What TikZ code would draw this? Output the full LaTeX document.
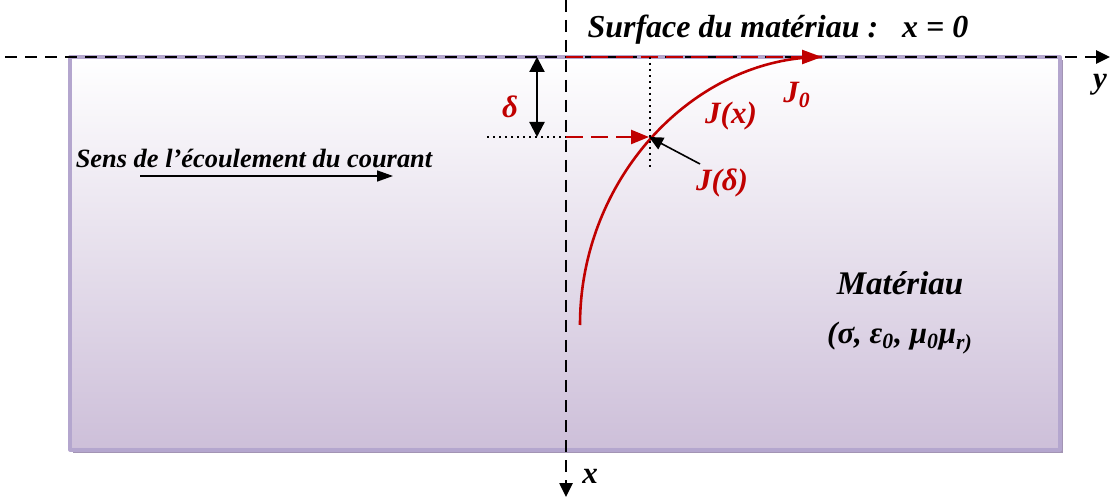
\documentclass[tikz,border=0pt]{standalone}
\usepackage{fontspec}
\setmainfont{Liberation Serif}
\usetikzlibrary{arrows.meta}
\definecolor{jred}{HTML}{C00000}
\definecolor{lilac}{HTML}{CDBFD9}
\definecolor{lilacedge}{HTML}{B4A6CE}
\definecolor{lilacshadow}{HTML}{A394B4}

\begin{document}
\begin{tikzpicture}[x=0.5pt, y=-0.5pt, line join=round,
    lbl/.style={font=\bfseries\itshape\fontsize{15.5}{17}\selectfont, inner sep=1pt},
    redlbl/.style={lbl, text=jred},
    tip/.style={-{Triangle[length=7pt,width=6.5pt]}},
    axisline/.style={line width=1.3pt, dash pattern=on 6pt off 4pt, tip}]
  \useasboundingbox (0,0) rectangle (1111,501);
  \coordinate (O) at (566,57);
  \coordinate (ystart) at (5,57);
  \coordinate (yend) at (1110,57);
  \coordinate (xstart) at (566,0);
  \coordinate (xend) at (566,497);
  \coordinate (Jtop) at (822,57);
  \coordinate (Jbot) at (580,325);
  \coordinate (Dx) at (566,137);   % depth delta on x axis
  \coordinate (Dp) at (649,137);   % J(delta) on the curve
  % material block
  \fill[lilacshadow] (73,60) rectangle (1063,453);
  \shade[top color=white, bottom color=lilac, draw=lilacedge, line width=1.6pt]
    (70,57) rectangle (1060,450);
  % axes
  \draw[axisline] (ystart) -- (yend);
  \draw[axisline] (xstart) -- (xend);
  \node[lbl] (ylab) at (1100,85) {y};
  \node[lbl] (xlab) at (590,476) {x};
  \node[lbl, font=\bfseries\itshape\fontsize{16}{18}\selectfont] (surf) at (778,30)
    {Surface du matériau :\enskip\ x = 0};
  % current density
  \draw[jred, line width=1.2pt, dash pattern=on 8.5pt off 4pt, -{Triangle[length=10pt,width=7pt]}]
    (O) -- (Jtop);
  \draw[jred, line width=1.3pt] (Jbot) .. controls (580,177) and (695,57) .. (Jtop);
  \draw[jred, line width=1.2pt, dash pattern=on 8.5pt off 4pt, -{Triangle[length=9pt,width=7pt]}]
    (Dx) -- (Dp);
  \draw[dotted, line width=1pt] (487,137) -- (Dx);
  \draw[dotted, line width=1pt] (650,57) -- (650,168);
  \draw[line width=1.1pt, {Triangle[length=7.5pt,width=7.5pt]}-{Triangle[length=7.5pt,width=7.5pt]}]
    (537,57) -- (537,137);
  \node[redlbl] (delta) at (510,107) {δ};
  \node[redlbl] (J0) at (797,95) {J\textsubscript{0}};
  \node[redlbl] (Jx) at (731,116) {J(x)};
  \node[redlbl] (Jd) at (722,183) {J(δ)};
  \draw[line width=0.8pt, tip] (700,164) -- (Dp);
  % flow direction
  \node[lbl, font=\bfseries\itshape\fontsize{13.2}{15}\selectfont] (sens) at (254,158)
    {Sens de l’écoulement du courant};
  \coordinate (fa) at (140,176);
  \coordinate (fb) at (393,176);
  \draw[line width=0.8pt, -{Triangle[length=8pt,width=5.5pt]}] (fa) -- (fb);
  % material
  \node[lbl, font=\bfseries\itshape\fontsize{16.5}{18}\selectfont] (mat) at (900,283) {Matériau};
  \node[lbl] (param) at (900,338) {(σ, ε\textsubscript{0}, μ\textsubscript{0}μ\textsubscript{r)}};
\end{tikzpicture}
\end{document}
